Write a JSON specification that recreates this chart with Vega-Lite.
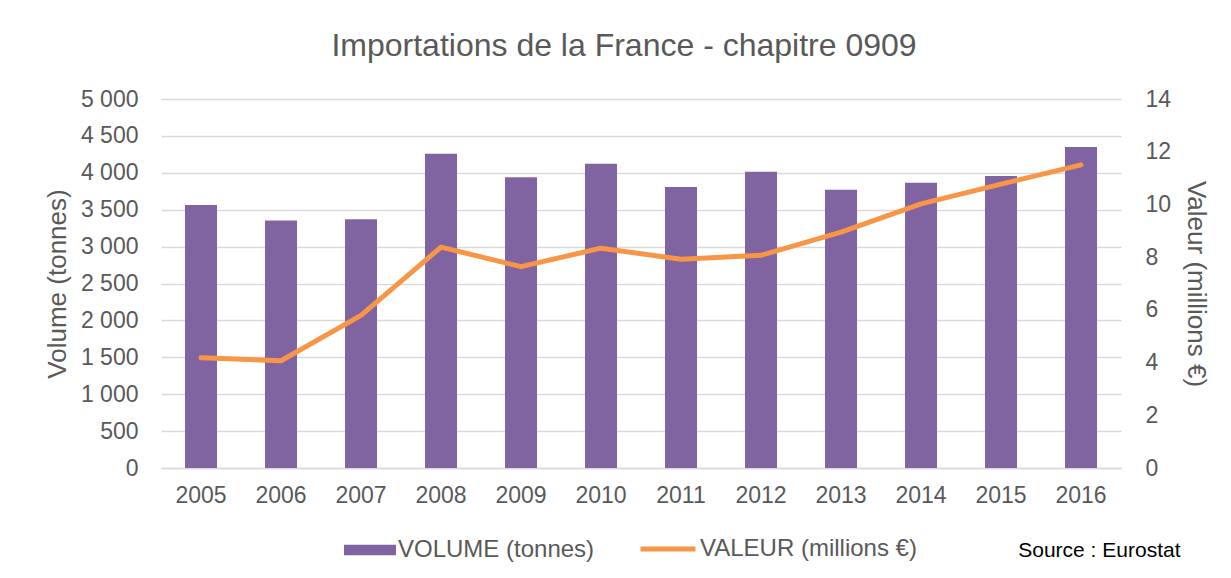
{
  "$schema": "https://vega.github.io/schema/vega-lite/v6.json",
  "width": 960,
  "height": 369,
  "autosize": {"type": "none"},
  "padding": {"left": 161, "top": 99, "right": 110, "bottom": 110},
  "background": "white",
  "title": {
    "text": "Importations de la France - chapitre 0909",
    "fontSize": 32,
    "font": "Liberation Sans",
    "fontWeight": "normal",
    "color": "#595959",
    "offset": 25,
    "dx": -17,
    "anchor": "middle"
  },
  "data": {
    "values": [
      {"year": "2005", "volume": 3565, "valeur": 4.18},
      {"year": "2006", "volume": 3352, "valeur": 4.07},
      {"year": "2007", "volume": 3371, "valeur": 5.79},
      {"year": "2008", "volume": 4258, "valeur": 8.38},
      {"year": "2009", "volume": 3941, "valeur": 7.64},
      {"year": "2010", "volume": 4122, "valeur": 8.34},
      {"year": "2011", "volume": 3806, "valeur": 7.92},
      {"year": "2012", "volume": 4013, "valeur": 8.07},
      {"year": "2013", "volume": 3769, "valeur": 8.95},
      {"year": "2014", "volume": 3864, "valeur": 10.02},
      {"year": "2015", "volume": 3955, "valeur": 10.77},
      {"year": "2016", "volume": 4348, "valeur": 11.5}
    ]
  },
  "encoding": {
    "x": {
      "field": "year",
      "type": "ordinal",
      "scale": {"paddingInner": 0.6, "paddingOuter": 0.3},
      "axis": {
        "title": "Source : Eurostat",
        "titleFont": "Liberation Sans",
        "titleFontSize": 21,
        "titleFontWeight": "normal",
        "titleColor": "#000000",
        "titleAnchor": "end",
        "titleAlign": "right",
        "titleX": 1019,
        "titleY": 82,
        "titleBaseline": "middle",
        "labelAngle": 0,
        "labelFont": "Liberation Sans",
        "labelFontSize": 23,
        "labelColor": "#595959",
        "labelPadding": 16,
        "ticks": false,
        "domainColor": "#d9d9d9",
        "domainWidth": 1.5
      }
    }
  },
  "layer": [
    {
      "mark": {"type": "bar", "color": "#8064A2"},
      "encoding": {
        "y": {
          "field": "volume",
          "type": "quantitative",
          "scale": {"domain": [0, 5000]},
          "axis": {
            "title": "Volume (tonnes)",
            "values": [0, 500, 1000, 1500, 2000, 2500, 3000, 3500, 4000, 4500, 5000],
            "format": ",d",
            "titleFont": "Liberation Sans",
            "titleFontSize": 26,
            "titleFontWeight": "normal",
            "titleColor": "#595959",
            "titlePadding": 10,
            "labelFont": "Liberation Sans",
            "labelFontSize": 23,
            "labelColor": "#595959",
            "labelPadding": 23,
            "ticks": false,
            "domain": false,
            "grid": true,
            "gridColor": "#d9d9d9",
            "gridWidth": 1.5
          }
        },
        "fill": {
          "datum": "VOLUME (tonnes)",
          "scale": {"range": ["#8064A2"]},
          "legend": {
            "title": null,
            "orient": "none",
            "legendX": 183,
            "legendY": 425,
            "symbolType": "M-1,-0.2H1V0.2H-1Z",
            "symbolSize": 2704,
            "symbolStrokeWidth": 0,
            "labelOffset": 2,
            "labelLimit": 0,
            "labelFont": "Liberation Sans",
            "labelFontSize": 24,
            "labelColor": "#595959"
          }
        }
      }
    },
    {
      "mark": {"type": "line", "color": "#F79646", "strokeWidth": 5, "strokeCap": "round", "strokeJoin": "round"},
      "encoding": {
        "y": {
          "field": "valeur",
          "type": "quantitative",
          "scale": {"domain": [0, 14]},
          "axis": {
            "title": "Valeur (millions €)",
            "orient": "right",
            "values": [0, 2, 4, 6, 8, 10, 12, 14],
            "titleFont": "Liberation Sans",
            "titleFontSize": 26,
            "titleFontWeight": "normal",
            "titleColor": "#595959",
            "titlePadding": 12,
            "labelFont": "Liberation Sans",
            "labelFontSize": 23,
            "labelColor": "#595959",
            "labelPadding": 24,
            "ticks": false,
            "domain": false,
            "grid": false
          }
        },
        "stroke": {
          "datum": "VALEUR (millions €)",
          "scale": {"range": ["#F79646"]},
          "legend": {
            "title": null,
            "orient": "none",
            "legendX": 477,
            "legendY": 420,
            "symbolType": "stroke",
            "symbolSize": 3025,
            "symbolStrokeWidth": 5,
            "labelOffset": 2,
            "labelLimit": 0,
            "labelFont": "Liberation Sans",
            "labelFontSize": 24,
            "labelColor": "#595959"
          }
        }
      }
    }
  ],
  "resolve": {"scale": {"y": "independent"}},
  "config": {
    "view": {"stroke": null},
    "locale": {
      "number": {"decimal": ",", "thousands": " ", "grouping": [3], "currency": ["", " €"]}
    }
  }
}
